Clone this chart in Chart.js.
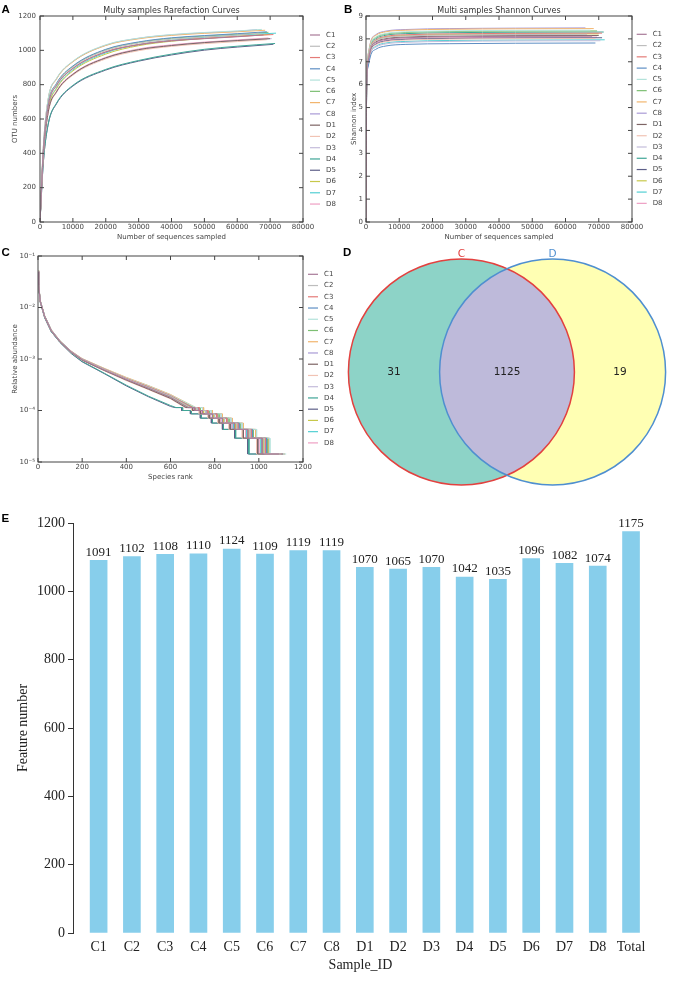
<!DOCTYPE html>
<html lang="en">
<head>
<meta charset="UTF-8" />
<title>Rarefaction, Shannon, rank abundance, Venn and feature numbers</title>
<script src="https://cdn.jsdelivr.net/npm/chart.js"></script>
<style>
  body { margin: 0; background: #fff; }
  .fig { position: relative; width: 674px; height: 991px; overflow: hidden; background: #fff; }
  .fig canvas { position: absolute; }
  .tag { position: absolute; font: bold 11.5px 'Liberation Sans', Arial, sans-serif; line-height: 1; color: #000; }
</style>
</head>
<body>
<div class="fig">
  <canvas id="rareChart" width="340" height="245" style="left:0;top:0"></canvas>
  <canvas id="shannonChart" width="344" height="245" style="left:330px;top:0"></canvas>
  <canvas id="rankChart" width="340" height="245" style="left:0;top:240px"></canvas>
  <canvas id="vennChart" width="334" height="264" style="left:340px;top:240px"></canvas>
  <canvas id="featureChart" width="674" height="491" style="left:0;top:500px"></canvas>
  <div class="tag" style="left:1.5px;top:3.5px">A</div>
  <div class="tag" style="left:344px;top:3.5px">B</div>
  <div class="tag" style="left:1.5px;top:246.5px">C</div>
  <div class="tag" style="left:343px;top:246.5px">D</div>
  <div class="tag" style="left:1.5px;top:512.5px">E</div>
</div>

<script>
  // ---- data ----
  const samples = ['C1', 'C2', 'C3', 'C4', 'C5', 'C6', 'C7', 'C8', 'D1', 'D2', 'D3', 'D4', 'D5', 'D6', 'D7', 'D8'];
  const sampleColors = ['#a87a98', '#bdbdbd', '#e47b78', '#5e8fc4', '#b3e2da', '#7dbf73', '#f2b56e', '#a99ad6',
                        '#7d6464', '#f1c3b4', '#c4bcdb', '#3fa596', '#5d5f88', '#c7c84a', '#52cfd3', '#ee9fc3'];

  // sequencing depth where each curve stops
  const depth = [68000, 66500, 71000, 69000, 67500, 69500, 68500, 66000, 70000, 69000, 70500, 71500, 71000, 70000, 71800, 69500];

  // A: OTU numbers at rareSteps, last value is at the sample's depth
  const rareSteps = [0, 1000, 2500, 5000, 10000, 20000, 30000, 40000, 50000, 60000];
  const otuCurves = [
    [0, 403, 676, 794, 894, 990, 1032, 1055, 1068, 1079, 1090],   // C1
    [0, 407, 682, 801, 902, 999, 1042, 1065, 1078, 1089, 1100],   // C2
    [0, 404, 677, 795, 895, 992, 1034, 1057, 1070, 1081, 1092],   // C3
    [0, 410, 687, 807, 909, 1006, 1049, 1073, 1086, 1097, 1108],  // C4
    [0, 432, 718, 836, 937, 1032, 1071, 1092, 1104, 1113, 1122],  // C5
    [0, 409, 685, 804, 906, 1003, 1046, 1070, 1083, 1094, 1105],  // C6
    [0, 430, 715, 832, 933, 1028, 1067, 1087, 1099, 1108, 1117],  // C7
    [0, 431, 717, 834, 935, 1030, 1070, 1090, 1102, 1111, 1120],  // C8
    [0, 384, 641, 758, 860, 956, 1004, 1028, 1045, 1057, 1068],   // D1
    [0, 382, 637, 754, 855, 950, 998, 1023, 1039, 1051, 1062],    // D2
    [0, 382, 638, 756, 858, 955, 1003, 1027, 1044, 1057, 1068],   // D3
    [0, 343, 572, 692, 796, 889, 941, 978, 1006, 1024, 1040],     // D4
    [0, 342, 569, 688, 792, 885, 937, 973, 1001, 1019, 1035],     // D5
    [0, 393, 656, 776, 880, 978, 1027, 1053, 1069, 1082, 1093],   // D6
    [0, 396, 660, 781, 886, 985, 1034, 1059, 1076, 1089, 1100],   // D7
    [0, 386, 643, 761, 863, 959, 1008, 1032, 1048, 1061, 1072]    // D8
  ];

  // B: Shannon index at shannonSteps, last value is at the sample's depth
  const shannonSteps = [0, 200, 600, 1500, 3000, 6000, 12000, 25000, 45000];
  const shannonCurves = [
    [0, 6.00, 7.00, 7.60, 7.84, 7.98, 8.05, 8.09, 8.11, 8.12],  // C1
    [0, 6.10, 7.05, 7.67, 7.92, 8.06, 8.13, 8.17, 8.19, 8.20],  // C2
    [0, 6.10, 7.10, 7.70, 7.96, 8.11, 8.18, 8.22, 8.24, 8.25],  // C3
    [0, 5.80, 6.75, 7.32, 7.55, 7.69, 7.76, 7.79, 7.81, 7.82],  // C4
    [0, 6.20, 7.20, 7.83, 8.09, 8.24, 8.31, 8.35, 8.37, 8.38],  // C5
    [0, 6.20, 7.18, 7.80, 8.06, 8.21, 8.28, 8.32, 8.34, 8.35],  // C6
    [0, 6.25, 7.27, 7.90, 8.16, 8.31, 8.38, 8.42, 8.44, 8.45],  // C7
    [0, 6.30, 7.30, 7.93, 8.19, 8.34, 8.41, 8.45, 8.47, 8.48],  // C8
    [0, 6.03, 7.00, 7.62, 7.87, 8.01, 8.08, 8.12, 8.14, 8.15],  // D1
    [0, 5.95, 6.90, 7.50, 7.74, 7.88, 7.95, 7.99, 8.01, 8.02],  // D2
    [0, 5.86, 6.80, 7.40, 7.64, 7.78, 7.85, 7.89, 7.91, 7.92],  // D3
    [0, 6.15, 7.14, 7.76, 8.01, 8.16, 8.23, 8.27, 8.29, 8.30],  // D4
    [0, 5.96, 6.92, 7.53, 7.77, 7.91, 7.98, 8.02, 8.04, 8.05],  // D5
    [0, 6.08, 7.07, 7.69, 7.93, 8.08, 8.15, 8.19, 8.21, 8.22],  // D6
    [0, 5.89, 6.85, 7.44, 7.68, 7.82, 7.89, 7.93, 7.95, 7.96],  // D7
    [0, 5.98, 6.95, 7.55, 7.80, 7.94, 8.01, 8.05, 8.07, 8.08]   // D8
  ];

  // C: relative abundance at rankGrid, then a staircase of low counts down to singletons
  const rankGrid = [1, 3, 10, 30, 60, 100, 150, 200, 300, 400, 500, 600];
  const rankCurves = [
    [0.049, 0.0275, 0.0133, 0.0067, 0.00355, 0.00218, 0.00137, 0.00097, 0.00061, 0.00040, 0.000270, 0.000180],  // C1
    [0.050, 0.0280, 0.0135, 0.0068, 0.00360, 0.00220, 0.00139, 0.00099, 0.00063, 0.00041, 0.000280, 0.000190],  // C2
    [0.051, 0.0282, 0.0134, 0.0068, 0.00362, 0.00221, 0.00140, 0.00100, 0.00064, 0.00042, 0.000290, 0.000195],  // C3
    [0.050, 0.0279, 0.0136, 0.0069, 0.00364, 0.00222, 0.00140, 0.00099, 0.00063, 0.00041, 0.000280, 0.000190],  // C4
    [0.052, 0.0290, 0.0138, 0.0069, 0.00370, 0.00225, 0.00142, 0.00101, 0.00065, 0.00043, 0.000300, 0.000200],  // C5
    [0.050, 0.0280, 0.0135, 0.0068, 0.00360, 0.00220, 0.00139, 0.00099, 0.00064, 0.00042, 0.000290, 0.000192],  // C6
    [0.053, 0.0292, 0.0139, 0.0070, 0.00372, 0.00226, 0.00143, 0.00102, 0.00066, 0.00044, 0.000305, 0.000205],  // C7
    [0.052, 0.0288, 0.0137, 0.0069, 0.00368, 0.00224, 0.00142, 0.00101, 0.00065, 0.00043, 0.000300, 0.000200],  // C8
    [0.048, 0.0270, 0.0131, 0.0066, 0.00350, 0.00215, 0.00135, 0.00095, 0.00060, 0.00039, 0.000260, 0.000172],  // D1
    [0.047, 0.0268, 0.0130, 0.0066, 0.00348, 0.00214, 0.00134, 0.00094, 0.00059, 0.00038, 0.000255, 0.000168],  // D2
    [0.048, 0.0271, 0.0132, 0.0066, 0.00350, 0.00216, 0.00135, 0.00095, 0.00060, 0.00039, 0.000260, 0.000172],  // D3
    [0.047, 0.0265, 0.0128, 0.0064, 0.00340, 0.00210, 0.00130, 0.00090, 0.00053, 0.00031, 0.000190, 0.000125],  // D4
    [0.046, 0.0262, 0.0127, 0.0063, 0.00338, 0.00208, 0.00128, 0.00088, 0.00052, 0.00030, 0.000185, 0.000120],  // D5
    [0.049, 0.0276, 0.0134, 0.0067, 0.00356, 0.00219, 0.00138, 0.00098, 0.00062, 0.00040, 0.000272, 0.000182],  // D6
    [0.049, 0.0274, 0.0133, 0.0067, 0.00354, 0.00217, 0.00137, 0.00097, 0.00061, 0.000395, 0.000266, 0.000177], // D7
    [0.048, 0.0272, 0.0132, 0.0066, 0.00352, 0.00216, 0.00136, 0.00096, 0.00060, 0.00039, 0.000262, 0.000174]   // D8
  ];
  const tailLevels = [1.14e-4, 1.0e-4, 8.6e-5, 7.1e-5, 5.7e-5, 4.3e-5, 2.9e-5, 1.43e-5];
  const tailStarts = [
    [680, 710, 745, 790, 835, 890, 950, 1015],   // C1
    [690, 720, 760, 800, 845, 900, 960, 1025],   // C2
    [700, 730, 770, 810, 855, 905, 965, 1030],   // C3
    [695, 725, 765, 810, 855, 910, 970, 1035],   // C4
    [715, 745, 785, 830, 875, 925, 990, 1050],   // C5
    [705, 735, 775, 820, 865, 915, 975, 1040],   // C6
    [715, 750, 790, 835, 880, 930, 985, 1045],   // C7
    [710, 745, 785, 830, 875, 925, 985, 1048],   // C8
    [670, 700, 735, 775, 820, 870, 930, 995],    // D1
    [665, 695, 730, 770, 815, 865, 925, 990],    // D2
    [670, 700, 735, 775, 820, 875, 930, 995],    // D3
    [625, 655, 695, 740, 790, 840, 895, 955],    // D4
    [620, 650, 690, 735, 785, 835, 890, 950],    // D5
    [685, 715, 750, 795, 840, 895, 955, 1020],   // D6
    [680, 710, 745, 790, 835, 885, 945, 1010],   // D7
    [675, 705, 740, 780, 825, 880, 940, 1000]    // D8
  ];
  const decadeTicks = [1e-5, 1e-4, 1e-3, 1e-2, 1e-1];

  // D: Venn
  const vennSets = ['C', 'D'];
  const vennCounts = [31, 1125, 19];   // C only, shared, D only

  // E: feature numbers
  const featureLabels = ['C1', 'C2', 'C3', 'C4', 'C5', 'C6', 'C7', 'C8', 'D1', 'D2', 'D3', 'D4', 'D5', 'D6', 'D7', 'D8', 'Total'];
  const featureCounts = [1091, 1102, 1108, 1110, 1124, 1109, 1119, 1119, 1070, 1065, 1070, 1042, 1035, 1096, 1082, 1074, 1175];

  // ---- helpers ----
  const sans = 'DejaVu Sans';
  const serif = "'Liberation Serif', 'Times New Roman', serif";
  Chart.defaults.font.family = sans;
  Chart.defaults.animation = false;
  Chart.defaults.events = [];

  // force an axis box to a fixed size so the plot area lands where it should
  function fixBox(size) {
    return function (scale) {
      if (scale.isHorizontal()) scale.height = size; else scale.width = size;
      scale.paddingLeft = scale.paddingRight = scale.paddingTop = scale.paddingBottom = 0;
    };
  }

  // matplotlib style frame with inward ticks, title centred on the plot
  const frameTicks = {
    id: 'frameTicks',
    afterDraw(chart, args, opts) {
      const { ctx, chartArea: a, scales } = chart;
      ctx.save();
      ctx.strokeStyle = '#444';
      ctx.lineWidth = 1;
      ctx.strokeRect(a.left, a.top, a.right - a.left, a.bottom - a.top);
      ctx.beginPath();
      scales.x.ticks.forEach(t => {
        const px = scales.x.getPixelForValue(t.value);
        ctx.moveTo(px, a.bottom); ctx.lineTo(px, a.bottom - 4);
        ctx.moveTo(px, a.top); ctx.lineTo(px, a.top + 4);
      });
      scales.y.ticks.forEach(t => {
        const py = scales.y.getPixelForValue(t.value);
        ctx.moveTo(a.left, py); ctx.lineTo(a.left + 4, py);
        ctx.moveTo(a.right, py); ctx.lineTo(a.right - 4, py);
      });
      ctx.stroke();
      if (opts.title) {
        ctx.font = '8px "DejaVu Sans"';
        ctx.fillStyle = '#333';
        ctx.textAlign = 'center';
        ctx.textBaseline = 'middle';
        ctx.fillText(opts.title, (a.left + a.right) / 2, 11);
      }
      ctx.restore();
    }
  };

  const sampleLegend = {
    id: 'sampleLegend',
    afterDraw(chart, args, opts) {
      const { ctx } = chart;
      ctx.save();
      ctx.font = '7px "DejaVu Sans"';
      ctx.textBaseline = 'middle';
      chart.data.datasets.forEach((ds, i) => {
        const y = opts.y + i * opts.step;
        ctx.strokeStyle = ds.borderColor;
        ctx.lineWidth = 1.2;
        ctx.beginPath();
        ctx.moveTo(opts.x, y);
        ctx.lineTo(opts.x + 10, y);
        ctx.stroke();
        ctx.fillStyle = '#444';
        ctx.fillText(ds.label, opts.x + 16, y);
      });
      ctx.restore();
    }
  };

  const tickFont = { family: sans, size: 7 };

  function curveOptions(o) {
    return {
      responsive: false,
      maintainAspectRatio: false,
      layout: { padding: { top: 16, right: o.right, left: 0, bottom: 0 } },
      plugins: {
        legend: { display: false },
        tooltip: { enabled: false },
        frameTicks: { title: o.title },
        sampleLegend: o.legend
      },
      elements: { point: { radius: 0 }, line: { borderWidth: 1 } },
      scales: {
        x: Object.assign({
          type: 'linear',
          grid: { display: false, drawTicks: false },
          border: { display: false },
          title: { display: true, text: o.xTitle, color: '#444', font: tickFont, padding: { top: 0, bottom: 4 } },
          afterFit: fixBox(23)
        }, o.x),
        y: Object.assign({
          grid: { display: false, drawTicks: false },
          border: { display: false },
          title: { display: true, text: o.yTitle, color: '#444', font: tickFont, padding: { top: o.yTitlePad, bottom: 0 } },
          afterFit: fixBox(o.yWidth)
        }, o.y)
      }
    };
  }

  function sampleLines(pointsFor, smooth) {
    return samples.map((s, i) => ({
      label: s,
      data: pointsFor(i),
      borderColor: sampleColors[i],
      backgroundColor: sampleColors[i],
      borderWidth: 1,
      pointRadius: 0,
      fill: false,
      cubicInterpolationMode: smooth ? 'monotone' : 'default',
      tension: 0
    }));
  }

  const plainNumber = v => String(v);

  // ---- A: rarefaction ----
  new Chart(document.getElementById('rareChart'), {
    type: 'line',
    data: {
      datasets: sampleLines(i => rareSteps.map((x, j) => ({ x, y: otuCurves[i][j] }))
        .concat({ x: depth[i], y: otuCurves[i][rareSteps.length] }), true)
    },
    options: curveOptions({
      title: 'Multy samples Rarefaction Curves', right: 37,
      xTitle: 'Number of sequences sampled', yTitle: 'OTU numbers', yWidth: 40, yTitlePad: 11,
      x: { min: 0, max: 80000, ticks: { font: tickFont, color: '#444', padding: 1, maxRotation: 0, autoSkip: false, stepSize: 10000, callback: plainNumber } },
      y: { min: 0, max: 1200, ticks: { font: tickFont, color: '#444', padding: 4, stepSize: 200, callback: plainNumber } },
      legend: { x: 310, y: 35, step: 11.27 }
    }),
    plugins: [frameTicks, sampleLegend]
  });

  // ---- B: Shannon ----
  new Chart(document.getElementById('shannonChart'), {
    type: 'line',
    data: {
      datasets: sampleLines(i => shannonSteps.map((x, j) => ({ x, y: shannonCurves[i][j] }))
        .concat({ x: depth[i], y: shannonCurves[i][shannonSteps.length] }), true)
    },
    options: curveOptions({
      title: 'Multi samples Shannon Curves', right: 42,
      xTitle: 'Number of sequences sampled', yTitle: 'Shannon index', yWidth: 36, yTitlePad: 20,
      x: { min: 0, max: 80000, ticks: { font: tickFont, color: '#444', padding: 1, maxRotation: 0, autoSkip: false, stepSize: 10000, callback: plainNumber } },
      y: { min: 0, max: 9, ticks: { font: tickFont, color: '#444', padding: 3, stepSize: 1, callback: plainNumber } },
      legend: { x: 306.7, y: 34.3, step: 11.27 }
    }),
    plugins: [frameTicks, sampleLegend]
  });

  // ---- C: rank abundance ----
  const supers = { '-': '\u207B', '0': '\u2070', '1': '\u00B9', '2': '\u00B2', '3': '\u00B3', '4': '\u2074', '5': '\u2075' };
  function rankPoints(i) {
    const pts = rankGrid.map((r, j) => ({ x: r, y: rankCurves[i][j] }));
    let level = null;
    tailStarts[i].forEach((r, j) => {
      if (level !== null) pts.push({ x: r, y: level });
      level = tailLevels[j];
      pts.push({ x: r, y: level });
    });
    pts.push({ x: featureCounts[i], y: level });
    return pts;
  }
  new Chart(document.getElementById('rankChart'), {
    type: 'line',
    data: { datasets: sampleLines(rankPoints, false) },
    options: curveOptions({
      right: 37,
      xTitle: 'Species rank', yTitle: 'Relative abundance', yWidth: 38, yTitlePad: 11,
      x: { min: 0, max: 1200, ticks: { font: tickFont, color: '#444', padding: 1, maxRotation: 0, autoSkip: false, stepSize: 200, callback: plainNumber } },
      y: {
        type: 'logarithmic', min: 1e-5, max: 1e-1,
        afterBuildTicks: s => { s.ticks = decadeTicks.map(v => ({ value: v })); },
        ticks: {
          font: tickFont, color: '#444', padding: 3,
          callback: v => '10' + String(Math.round(Math.log10(v))).split('').map(c => supers[c]).join('')
        }
      },
      legend: { x: 308, y: 34.3, step: 11.24 }
    }),
    plugins: [frameTicks, sampleLegend]
  });

  // ---- D: Venn ----
  const vennCentres = [-0.273, 0.273];
  const vennFill = ['#8dd3c7', '#ffffb3'];
  const vennEdge = ['#e3413f', '#4f8fd0'];
  const vennOverlay = {
    id: 'vennOverlay',
    afterDatasetsDraw(chart) {
      const { ctx } = chart;
      const c = chart.getDatasetMeta(0).data[0];
      const d = chart.getDatasetMeta(1).data[0];
      const r = c.options.radius;
      ctx.save();
      ctx.beginPath();
      ctx.arc(c.x, c.y, r, 0, Math.PI * 2);
      ctx.clip();
      ctx.beginPath();
      ctx.arc(d.x, d.y, r, 0, Math.PI * 2);
      ctx.fillStyle = '#bebada';
      ctx.fill();
      ctx.restore();

      ctx.save();
      ctx.lineWidth = 1.5;
      [c, d].forEach((el, i) => {
        ctx.beginPath();
        ctx.arc(el.x, el.y, r, 0, Math.PI * 2);
        ctx.strokeStyle = vennEdge[i];
        ctx.stroke();
      });
      ctx.font = '10.5px "DejaVu Sans"';
      ctx.textAlign = 'center';
      ctx.textBaseline = 'alphabetic';
      [c, d].forEach((el, i) => {
        ctx.fillStyle = vennEdge[i];
        ctx.fillText(vennSets[i], el.x, el.y - r - 2.5);
      });
      ctx.fillStyle = '#222';
      ctx.textBaseline = 'middle';
      const xs = [(c.x - r + d.x - r) / 2, (d.x - r + c.x + r) / 2, (c.x + r + d.x + r) / 2];
      vennCounts.forEach((n, k) => ctx.fillText(String(n), xs[k], c.y));
      ctx.restore();
    }
  };
  new Chart(document.getElementById('vennChart'), {
    type: 'bubble',
    data: {
      datasets: vennSets.map((s, i) => ({
        label: s,
        data: [{ x: vennCentres[i], y: 0, r: 113 }],
        backgroundColor: vennFill[i],
        borderWidth: 0,
        clip: false
      }))
    },
    options: {
      responsive: false,
      maintainAspectRatio: false,
      layout: { padding: 0, autoPadding: false },
      plugins: { legend: { display: false }, tooltip: { enabled: false } },
      scales: {
        x: { display: false, min: -1, max: 1 },
        y: { display: false, min: -1, max: 1 }
      }
    },
    plugins: [vennOverlay]
  });

  // ---- E: feature numbers ----
  const barValues = {
    id: 'barValues',
    afterDatasetsDraw(chart) {
      const { ctx } = chart;
      ctx.save();
      ctx.font = '13px ' + serif;
      ctx.fillStyle = '#222';
      ctx.textAlign = 'center';
      ctx.textBaseline = 'alphabetic';
      chart.getDatasetMeta(0).data.forEach((bar, i) => {
        ctx.fillText(String(featureCounts[i]), bar.x, bar.y - 4.5);
      });
      ctx.restore();
    }
  };
  const serifFont = { family: serif, size: 14 };
  new Chart(document.getElementById('featureChart'), {
    type: 'bar',
    data: {
      datasets: [{
        data: featureLabels.map((l, i) => ({ x: i, y: featureCounts[i] })),
        backgroundColor: '#87ceeb',
        barThickness: 17
      }]
    },
    options: {
      responsive: false,
      maintainAspectRatio: false,
      layout: { padding: { top: 23, right: 26, left: 0, bottom: 0 } },
      plugins: { legend: { display: false }, tooltip: { enabled: false } },
      scales: {
        x: {
          type: 'linear', offset: false, min: -0.77, max: 16.51,
          grid: { display: false, drawTicks: false },
          border: { display: false },
          afterBuildTicks: s => { s.ticks = featureLabels.map((l, i) => ({ value: i })); },
          ticks: { font: serifFont, color: '#222', padding: 6, maxRotation: 0, autoSkip: false, callback: v => featureLabels[v] },
          title: { display: true, text: 'Sample_ID', color: '#222', font: serifFont, padding: { top: 0, bottom: 17 } },
          afterFit: fixBox(58)
        },
        y: {
          min: 0, max: 1200,
          grid: { drawOnChartArea: false, drawTicks: true, tickLength: 5, color: '#333' },
          border: { display: true, color: '#333', width: 1 },
          ticks: { font: serifFont, color: '#222', padding: 3, stepSize: 200, callback: plainNumber },
          title: { display: true, text: 'Feature number', color: '#222', font: serifFont, padding: { top: 14.5, bottom: 0 } },
          afterFit: fixBox(73)
        }
      }
    },
    plugins: [barValues]
  });
</script>
</body>
</html>
